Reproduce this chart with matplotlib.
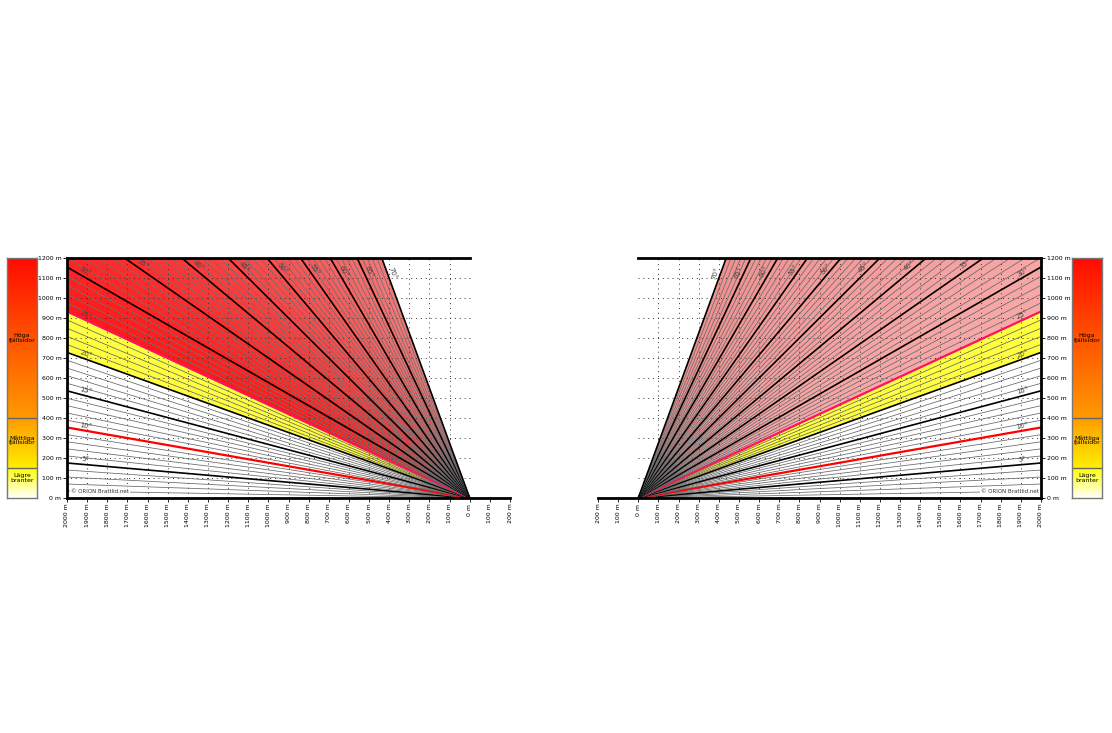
import numpy as np
import matplotlib
matplotlib.use("Agg")
import matplotlib.pyplot as plt
from matplotlib.colors import to_rgb

angles = list(range(1, 71))
major_angles = [5, 15, 20, 30, 35, 40, 45, 50, 55, 60, 65, 70]
red_angle = 10
pink_angle = 25
label_angles = [5, 10, 15, 20, 25, 30, 35, 40, 45, 50, 55, 60, 65, 70]
yellow_band = (20, 25)
red_band = (25, 70)
xticks = list(range(-200, 2001, 100))
yticks = list(range(0, 1201, 100))
XMAX, YMAX = 2000, 1200
cb_labels = [("Höga\nfjällsidor", 800), ("Måttliga\nfjällsidor", 290), ("Lägre\nbranter", 100)]
cb_breaks = [150, 400]

def bpt(a):
    r = np.radians(a)
    t = min(XMAX / np.cos(r), YMAX / np.sin(r))
    return t * np.cos(r), t * np.sin(r)

def wedge(a1, a2):
    pts = [(0, 0), bpt(a1)]
    corner = np.degrees(np.arctan2(YMAX, XMAX))
    if a1 < corner < a2:
        pts.append((XMAX, YMAX))
    pts.append(bpt(a2))
    return pts

def lerp(c1, c2, f):
    c1, c2 = np.array(to_rgb(c1)), np.array(to_rgb(c2))
    return c1 + (c2 - c1) * f

fig = plt.figure(figsize=(11.12, 7.33), dpi=100)

def panel(rect, left):
    ax = fig.add_axes(rect)
    ax.set_xlim((XMAX, -200) if left else (-200, XMAX))
    ax.set_ylim(0, YMAX)
    for s in ax.spines.values():
        s.set_visible(False)
    ax.add_patch(plt.Polygon(wedge(*yellow_band), color="#ffff40", lw=0, zorder=1))
    c_a, c_b = ("#ff1a1a", "#f27a7a") if left else ("#f8a8a8", "#f09090")
    for a in range(red_band[0], red_band[1]):
        f = (a - red_band[0]) / (red_band[1] - red_band[0])
        ax.add_patch(plt.Polygon(wedge(a, a + 1), color=lerp(c_a, c_b, f), lw=0, zorder=1))
    th = np.radians(np.linspace(0, 70, 60))
    disc = [(0, 0)] + list(zip(250 * np.cos(th), 250 * np.sin(th)))
    ax.add_patch(plt.Polygon(disc, color="#808080", alpha=0.3, lw=0, zorder=3))
    for x in range(100, 2001, 100):
        ax.plot([x, x], [0, YMAX], ls=(0, (1, 4)), color="#333", lw=0.7, zorder=2)
    for y in range(100, 1201, 100):
        ax.plot([0, XMAX], [y, y], ls=(0, (1, 4)), color="#333", lw=0.7, zorder=2)
    for a in angles:
        x, y = bpt(a)
        if a == red_angle:
            c, lw = "#ff0000", 1.6
        elif a == pink_angle:
            c, lw = "#ff1060", 1.6
        elif a in major_angles:
            c, lw = "black", 1.2
        else:
            c, lw = "#666666", 0.55
        ax.plot([0, x], [0, y], color=c, lw=lw, zorder=4)
    for a in label_angles:
        x, y = bpt(a)
        r = np.radians(a)
        d = np.hypot(x, y) - 90
        px, py = d * np.cos(r) - 25 * np.sin(r), d * np.sin(r) + 25 * np.cos(r)
        rot = a if not left else -a
        ax.text(px, py, f"{a}°", fontsize=5, color="#444", rotation=rot,
                ha="center", va="center", zorder=5, rotation_mode="anchor")
    ax.plot([0, XMAX], [YMAX, YMAX], color="black", lw=2, zorder=6, clip_on=False)
    ax.plot([-200, XMAX], [0, 0], color="black", lw=2, zorder=6, clip_on=False)
    ax.plot([XMAX, XMAX], [0, YMAX], color="black", lw=2, zorder=6, clip_on=False)
    ax.text(1980 if left else 1990, 25, "© ORION Brattlid.net", fontsize=4, color="#333",
            ha="left" if left else "right", zorder=6,
            bbox=dict(fc="white", ec="none", pad=0.5))
    ax.set_xticks(xticks)
    ax.set_xticklabels([f"{abs(t)} m" for t in xticks], rotation=90, fontsize=4.5)
    ax.set_yticks(yticks)
    ax.set_yticklabels([f"{t} m" for t in yticks], fontsize=4.5)
    ax.tick_params(length=3, width=0.6, pad=1)
    if not left:
        ax.yaxis.tick_right()
    return ax

def cbar(rect):
    ax = fig.add_axes(rect)
    ys = np.arange(0, YMAX) + 0.5
    cols = []
    for y in ys:
        if y < 150:
            cols.append(lerp("#ffffff", "#ffff00", y / 150))
        elif y < 400:
            cols.append(lerp("#ffef00", "#ff9a00", (y - 150) / 250))
        else:
            cols.append(lerp("#ff9a00", "#ff0a00", (y - 400) / 800))
    img = np.array(cols)[:, None, :]
    ax.imshow(img, origin="lower", extent=(0, 1, 0, YMAX), aspect="auto")
    for b in cb_breaks:
        ax.axhline(b, color="#666", lw=1)
    for t, y in cb_labels:
        ax.text(0.5, y, t, fontsize=4.5, ha="center", va="center", linespacing=0.9)
    ax.set_xticks([]); ax.set_yticks([])
    for s in ax.spines.values():
        s.set_color("#777"); s.set_linewidth(1)
    ax.set_xlim(0, 1); ax.set_ylim(0, YMAX)

by, h = 1 - 498 / 733, 240 / 733
panel([67 / 1112, by, 443 / 1112, h], True)
panel([598 / 1112, by, 443 / 1112, h], False)
cbar([7 / 1112, by, 30 / 1112, h])
cbar([1072 / 1112, by, 30 / 1112, h])
fig.savefig("out.png", dpi=100)
